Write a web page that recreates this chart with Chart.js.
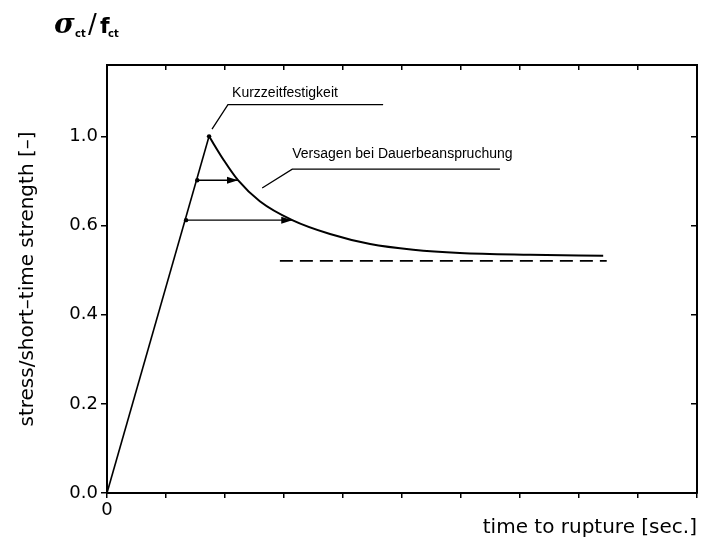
<!DOCTYPE html>
<html>
<head>
<meta charset="utf-8">
<script src="https://cdn.jsdelivr.net/npm/chart.js@4/dist/chart.umd.min.js"></script>
<style>
  html, body { margin: 0; padding: 0; background: #fff; }
  #wrap { width: 708px; height: 549px; }
</style>
</head>
<body>
<div id="wrap"><canvas id="chart" width="708" height="549"></canvas></div>
<script>
// rising branch up to short-time strength
const riseX = [0, 1.73];
const riseY = [0, 1.0];

// failure under sustained load (decay curve)
const decayX = [1.73, 1.98, 2.22, 2.59, 3.14, 3.78, 4.46, 5.19, 5.98, 7.17, 8.41];
const decayY = [1.0, 0.933, 0.877, 0.818, 0.765, 0.726, 0.698, 0.682, 0.673, 0.668, 0.665];

// dashed asymptote
const limitX = [2.93, 8.47];
const limitY = [0.651, 0.651];

// horizontal arrows from the loading line to the curve
const arrowUpperX = [1.53, 2.22];
const arrowUpperY = [0.877, 0.877];
const arrowLowerX = [1.34, 3.14];
const arrowLowerY = [0.765, 0.765];

// marked points
const dotX = [1.73, 1.53, 1.34];
const dotY = [1.0, 0.877, 0.765];

// axes
const yTickValues = [0, 0.25, 0.5, 0.75, 1.0];
const yTickLabels = ['0.0', '0.2', '0.4', '0.6', '1.0'];
const xTickValues = [0, 1, 2, 3, 4, 5, 6, 7, 8, 9, 10];
const xTickLabels = ['0', '', '', '', '', '', '', '', '', '', ''];

const toPts = (xs, ys) => xs.map((x, i) => ({ x, y: ys[i] }));

Chart.defaults.color = '#000';
Chart.defaults.font.family = '"DejaVu Sans", sans-serif';

// arrowheads, labels with leader lines, sigma/f heading
const extras = {
  id: 'extras',
  afterDatasetsDraw(chart) {
    const c = chart.ctx;
    const xs = chart.scales.x, ys = chart.scales.y;
    const px = v => xs.getPixelForValue(v), py = v => ys.getPixelForValue(v);

    c.save();
    c.fillStyle = '#000';
    c.strokeStyle = '#000';

    // arrowheads
    chart.data.datasets.forEach((ds, i) => {
      if (!ds.arrow) return;
      const pts = chart.getDatasetMeta(i).data;
      const a = pts[pts.length - 2], b = pts[pts.length - 1];
      const ang = Math.atan2(b.y - a.y, b.x - a.x);
      c.save();
      c.translate(b.x, b.y);
      c.rotate(ang);
      c.beginPath();
      c.moveTo(0, 0);
      c.lineTo(-11, -3.5);
      c.lineTo(-11, 3.5);
      c.closePath();
      c.fill();
      c.restore();
    });

    // labels
    c.font = '14px "Liberation Sans", Arial, sans-serif';
    c.textBaseline = 'alphabetic';
    c.textAlign = 'left';
    c.lineWidth = 1.3;

    c.fillText('Kurzzeitfestigkeit', px(2.12), py(1.11));
    c.beginPath();
    c.moveTo(px(1.78), py(1.02));
    c.lineTo(px(2.05), py(1.089));
    c.lineTo(px(4.68), py(1.089));
    c.stroke();

    c.fillText('Versagen bei Dauerbeanspruchung', px(3.14), py(0.94));
    c.beginPath();
    c.moveTo(px(2.63), py(0.855));
    c.lineTo(px(3.14), py(0.908));
    c.lineTo(px(6.66), py(0.908));
    c.stroke();

    // heading sigma_ct / f_ct
    c.font = 'italic bold 28px "DejaVu Serif", serif';
    c.fillText('σ', 54, 33);
    c.font = 'bold 10px "DejaVu Sans", sans-serif';
    c.fillText('ct', 75, 37);
    c.font = '26px "DejaVu Sans", sans-serif';
    c.fillText('/', 88, 33);
    c.font = 'bold 22px "DejaVu Sans", sans-serif';
    c.fillText('f', 100, 33);
    c.font = 'bold 10px "DejaVu Sans", sans-serif';
    c.fillText('ct', 108, 37);
    c.restore();
  }
};

const blackGrid = { drawOnChartArea: false, color: '#000', lineWidth: 1.5 };

new Chart(document.getElementById('chart'), {
  type: 'scatter',
  data: {
    datasets: [
      { data: toPts(riseX, riseY), showLine: true, borderColor: '#000', borderWidth: 1.6, pointRadius: 0 },
      { data: toPts(decayX, decayY), showLine: true, borderColor: '#000', borderWidth: 2, pointRadius: 0,
        cubicInterpolationMode: 'monotone' },
      { data: toPts(limitX, limitY), showLine: true, borderColor: '#000', borderWidth: 1.8, pointRadius: 0,
        borderDash: [13, 7] },
      { data: toPts(arrowUpperX, arrowUpperY), showLine: true, borderColor: '#000', borderWidth: 1.4, pointRadius: 0, arrow: true },
      { data: toPts(arrowLowerX, arrowLowerY), showLine: true, borderColor: '#000', borderWidth: 1.4, pointRadius: 0, arrow: true },
      { data: toPts(dotX, dotY), showLine: false, pointRadius: 2.2, pointBackgroundColor: '#000', pointBorderWidth: 0 }
    ]
  },
  options: {
    responsive: false,
    animation: false,
    events: [],
    layout: { padding: { left: 0, right: 11, top: 65, bottom: 0 } },
    plugins: { legend: { display: false }, tooltip: { enabled: false } },
    scales: {
      x: {
        type: 'linear', position: 'bottom', min: 0, max: 10,
        afterBuildTicks: s => { s.ticks = xTickValues.map(v => ({ value: v })); },
        afterFit: s => { s.height = 56; },
        ticks: { autoSkip: false, maxRotation: 0, padding: 2, font: { size: 18 },
          callback: (v, i) => xTickLabels[i] },
        grid: { ...blackGrid, tickLength: 5 },
        border: { color: '#000', width: 2 },
        title: { display: true, text: 'time to rupture [sec.]', align: 'end',
          font: { size: 20 }, padding: { top: 0, bottom: 9 } }
      },
      y: {
        type: 'linear', position: 'left', min: 0, max: 1.2,
        afterBuildTicks: s => { s.ticks = yTickValues.map(v => ({ value: v })); },
        afterFit: s => { s.width = 107; },
        ticks: { autoSkip: false, padding: 3, font: { size: 18 },
          callback: (v, i) => yTickLabels[i] },
        grid: { ...blackGrid, tickLength: 6 },
        border: { color: '#000', width: 2 },
        title: { display: true, text: 'stress/short\u2013time strength [\u2013]',
          font: { size: 20 }, padding: { top: 16, bottom: 0 } }
      },
      x2: {
        type: 'linear', position: 'top', min: 0, max: 10,
        afterBuildTicks: s => { s.ticks = xTickValues.map(v => ({ value: v })); },
        afterFit: s => { s.height = 0; },
        ticks: { display: false },
        grid: { ...blackGrid, tickLength: -5 },
        border: { color: '#000', width: 2 }
      },
      y2: {
        type: 'linear', position: 'right', min: 0, max: 1.2,
        afterBuildTicks: s => { s.ticks = yTickValues.map(v => ({ value: v })); },
        afterFit: s => { s.width = 0; },
        ticks: { display: false },
        grid: { ...blackGrid, tickLength: -6 },
        border: { color: '#000', width: 2 }
      }
    }
  },
  plugins: [extras]
});
</script>
</body>
</html>
